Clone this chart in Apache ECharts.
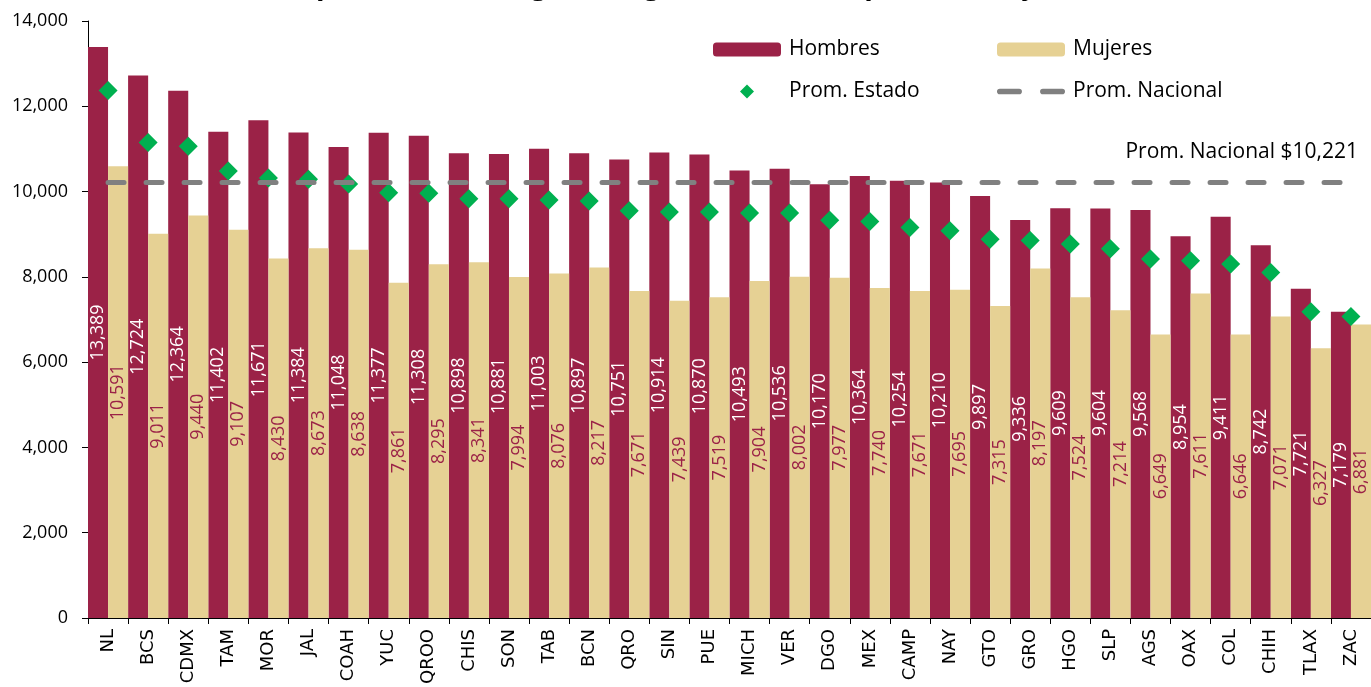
<!DOCTYPE html>
<html>
<head>
<meta charset="utf-8">
<script src="https://cdn.jsdelivr.net/npm/echarts@6/dist/echarts.min.js"></script>
<style>
html,body{margin:0;padding:0;background:#fff;}
#chart{width:1371px;height:687px;}
</style>
</head>
<body>
<div id="chart"></div>
<script>
var estados = ['NL','BCS','CDMX','TAM','MOR','JAL','COAH','YUC','QROO','CHIS','SON','TAB','BCN','QRO','SIN','PUE',
	'MICH','VER','DGO','MEX','CAMP','NAY','GTO','GRO','HGO','SLP','AGS','OAX','COL','CHIH','TLAX','ZAC'];
var hombres = [13389,12724,12364,11402,11671,11384,11048,11377,11308,10898,10881,11003,10897,10751,10914,10870,
	10493,10536,10170,10364,10254,10210,9897,9336,9609,9604,9568,8954,9411,8742,7721,7179];
var mujeres = [10591,9011,9440,9107,8430,8673,8638,7861,8295,8341,7994,8076,8217,7671,7439,7519,
	7904,8002,7977,7740,7671,7695,7315,8197,7524,7214,6649,7611,6646,7071,6327,6881];
var promEstado = [12370,11150,11060,10480,10320,10290,10180,9970,9960,9830,9830,9800,9780,9550,9520,9520,
	9500,9500,9330,9300,9160,9080,8880,8850,8770,8660,8420,8380,8300,8100,7180,7070];
var promNacional = 10221;

var vino = '#9b2247', arena = '#e6d194', verde = '#00b050', gris = '#808080';
var diamante = 'path://M0,-1L1,0L0,1L-1,0Z';
// dos guiones redondeados para la leyenda del promedio nacional
var guiones = 'path://M2.5,0L19.5,0A2.5,2.5,0,0,1,19.5,5L2.5,5A2.5,2.5,0,0,1,2.5,0Z'
	+ 'M40.5,0L57.5,0A2.5,2.5,0,0,1,57.5,5L40.5,5A2.5,2.5,0,0,1,40.5,0Z';

function fmt(v){
	return String(v).replace(/\B(?=(\d{3})+(?!\d))/g, ',');
}

var myChart = echarts.init(document.getElementById('chart'));
var option = {
	animation: false,
	title: {
		text: 'Prima promedio de seguro de gastos médicos por estado y sexo',
		left: 662,
		textAlign: 'center',
		top: -33,
		textStyle: {fontSize: 28, fontWeight: 'bold', color: '#000', fontFamily: 'Open Sans'}
	},
	legend: [
		{
			orient: 'vertical', left: 708, top: 34, itemWidth: 68, itemHeight: 14, itemGap: 21,
			data: ['Hombres', {name: 'Prom. Estado', icon: diamante}],
			textStyle: {fontSize: 21, color: '#000', fontFamily: 'Open Sans', padding: [0, 0, 0, 3]}
		},
		{
			orient: 'vertical', left: 992, top: 34, itemWidth: 68, itemHeight: 14, itemGap: 21,
			data: ['Mujeres', {name: 'Prom. Nacional', icon: guiones}],
			textStyle: {fontSize: 21, color: '#000', fontFamily: 'Open Sans', padding: [0, 0, 0, 3]}
		}
	],
	grid: {left: 88, top: 21, width: 1290, height: 600, containLabel: false},
	xAxis: {
		type: 'category',
		data: estados,
		axisLine: {lineStyle: {color: '#000', width: 1}},
		axisTick: {show: true, length: 6, lineStyle: {color: '#000'}},
		axisLabel: {rotate: 90, interval: 0, margin: 11, fontSize: 18, color: '#000', fontFamily: 'DejaVu Sans'}
	},
	yAxis: {
		type: 'value',
		min: 0, max: 14000, interval: 2000,
		splitLine: {show: false},
		axisLine: {show: true, lineStyle: {color: '#000', width: 1}},
		axisTick: {show: true, length: 6, lineStyle: {color: '#000'}},
		axisLabel: {margin: 20, fontSize: 18, color: '#000', fontFamily: 'Open Sans', formatter: fmt}
	},
	series: [
		{
			name: 'Hombres', type: 'bar', data: hombres,
			barGap: 0, barCategoryGap: 0,
			itemStyle: {color: vino},
			label: {
				show: true, position: 'inside', rotate: 90, fontSize: 18, color: '#fff', fontFamily: 'Open Sans',
				formatter: function(p){ return fmt(p.value); }
			}
		},
		{
			name: 'Mujeres', type: 'bar', data: mujeres,
			barGap: 0, barCategoryGap: 0,
			itemStyle: {color: arena},
			label: {
				show: true, position: 'inside', rotate: 90, fontSize: 18, color: vino, fontFamily: 'Open Sans',
				formatter: function(p){ return fmt(p.value); }
			}
		},
		{
			name: 'Prom. Nacional', type: 'line', data: [],
			symbol: 'none',
			lineStyle: {color: gris, width: 5, type: [16, 22], cap: 'round'},
			itemStyle: {color: gris},
			z: 3,
			markLine: {
				silent: true,
				symbol: ['none', 'none'],
				lineStyle: {color: gris, width: 5, type: [16, 22], cap: 'round'},
				label: {
					show: true, position: 'insideEndTop', distance: [-7, 20],
					fontSize: 21, color: '#000', fontFamily: 'Open Sans',
					formatter: 'Prom. Nacional $' + fmt(promNacional)
				},
				data: [[{coord: [estados[0], promNacional]}, {coord: [estados[estados.length - 1], promNacional]}]]
			}
		},
		{
			name: 'Prom. Estado', type: 'scatter', data: promEstado,
			symbol: 'diamond', symbolSize: 19,
			itemStyle: {color: verde, opacity: 1},
			z: 4
		}
	]
};
myChart.setOption(option);
</script>
</body>
</html>
